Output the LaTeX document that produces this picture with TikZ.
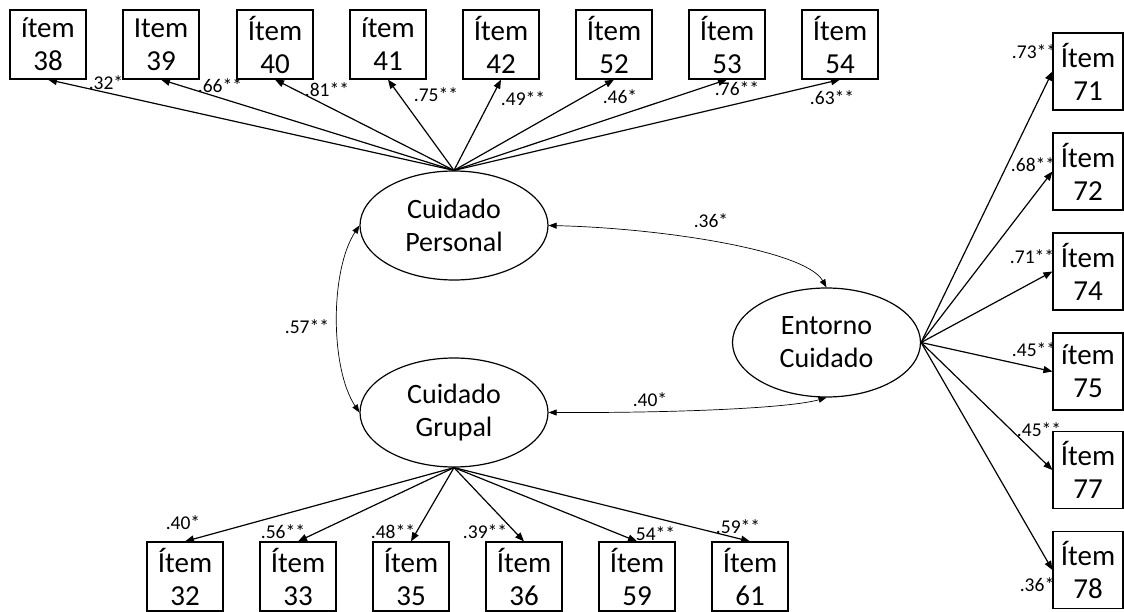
\documentclass[tikz,border=0pt]{standalone}
\usepackage{fontspec}
\setmainfont{Carlito}
\usetikzlibrary{arrows.meta,shapes.geometric}

\begin{document}
\begin{tikzpicture}[x=1pt, y=-1pt,
    item/.style={rectangle, draw, line width=1.2pt, minimum width=76pt, minimum height=69pt,
                 inner sep=0pt, align=center, font=\fontsize{29}{33}\selectfont},
    itemr/.style={item, minimum width=70pt, minimum height=77pt},
    lat/.style={ellipse, draw, line width=1.2pt, minimum width=188pt, minimum height=109pt,
                inner sep=0pt, align=center, font=\fontsize{28}{33}\selectfont},
    load/.style={-{Triangle[length=9pt, width=7pt]}, line width=1.2pt},
    cov/.style={{Triangle[length=8pt, width=6pt]}-{Triangle[length=8pt, width=6pt]}, line width=0.7pt},
    coef/.style={inner sep=0pt, font=\fontsize{19.5}{22}\selectfont}
]
\useasboundingbox (0,0) rectangle (1124,612);

\node[lat] (pers) at (454,225.5) {Cuidado\\Personal};
\node[lat] (grup) at (454,412.5) {Cuidado\\Grupal};
\node[lat] (ento) at (826.5,342.5) {Entorno\\Cuidado};

\node[item] (i38) at (48,44.5) {ítem\\38};
\node[item] (i39) at (161,44.5) {Item\\39};
\node[item] (i40) at (275,44.5) {Ítem\\40};
\node[item] (i41) at (388,44.5) {ítem\\41};
\node[item] (i42) at (501,44.5) {Ítem\\42};
\node[item] (i52) at (614,44.5) {Ítem\\52};
\node[item] (i53) at (727,44.5) {Ítem\\53};
\node[item] (i54) at (840,44.5) {Ítem\\54};

\node[item] (i32) at (185,576.5) {Ítem\\32};
\node[item] (i33) at (298,576.5) {Ítem\\33};
\node[item] (i35) at (411,576.5) {Ítem\\35};
\node[item] (i36) at (524,576.5) {Ítem\\36};
\node[item] (i59) at (637,576.5) {Ítem\\59};
\node[item] (i61) at (750,576.5) {Ítem\\61};

\node[itemr] (i71) at (1088,71.5) {Ítem\\71};
\node[itemr] (i72) at (1088,171.5) {Ítem\\72};
\node[itemr] (i74) at (1088,271.5) {Ítem\\74};
\node[itemr] (i75) at (1088,371.5) {ítem\\75};
\node[itemr] (i77) at (1088,470) {Ítem\\77};
\node[itemr] (i78) at (1088,570) {Ítem\\78};

\draw[load] (pers.north) -- (i38.south);
\draw[load] (pers.north) -- (i39.south);
\draw[load] (pers.north) -- (i40.south);
\draw[load] (pers.north) -- (i41.south);
\draw[load] (pers.north) -- (i42.south);
\draw[load] (pers.north) -- (i52.south);
\draw[load] (pers.north) -- (i53.south);
\draw[load] (pers.north) -- (i54.south);

\draw[load] (grup.south) -- (i32.north);
\draw[load] (grup.south) -- (i33.north);
\draw[load] (grup.south) -- (i35.north);
\draw[load] (grup.south) -- (i36.north);
\draw[load] (grup.south) -- (i59.north);
\draw[load] (grup.south) -- (i61.north);

\draw[load] (ento.east) -- (i71.west);
\draw[load] (ento.east) -- (i72.west);
\draw[load] (ento.east) -- (i74.west);
\draw[load] (ento.east) -- (i75.west);
\draw[load] (ento.east) -- (i77.west);
\draw[load] (ento.east) -- (i78.west);

\draw[cov] (pers.west) .. controls (330,270) and (330,368) .. (grup.west);
\draw[cov] (pers.east) .. controls (660,228) and (805,250) .. (ento.north);
\draw[cov] (grup.east) .. controls (680,413) and (790,408) .. (ento.south);

\node[coef] (c38) at (106,83) {.32*};
\node[coef] (c39) at (220,86) {.66**};
\node[coef] (c40) at (327,90) {.81**};
\node[coef] (c41) at (436,95) {.75**};
\node[coef] (c42) at (523,99) {.49**};
\node[coef] (c52) at (620,97) {.46*};
\node[coef] (c53) at (737,89) {.76**};
\node[coef] (c54) at (832,98) {.63**};

\node[coef] (c32) at (183,523) {.40*};
\node[coef] (c33) at (283,532) {.56**};
\node[coef] (c35) at (393,532) {.48**};
\node[coef] (c36) at (485,532) {.39**};
\node[coef] (c59) at (653,534) {.54**};
\node[coef] (c61) at (738,527) {.59**};

\node[coef] (c71) at (1034,52) {.73**};
\node[coef] (c72) at (1033,165) {.68**};
\node[coef] (c74) at (1032,257) {.71**};
\node[coef] (c75) at (1034,350) {.45**};
\node[coef] (c77) at (1039,430) {.45**};
\node[coef] (c78) at (1037,585) {.36*};

\node[coef] (cpg) at (307,327) {.57**};
\node[coef] (cpe) at (711,221) {.36*};
\node[coef] (cge) at (650,400) {.40*};
\end{tikzpicture}
\end{document}
